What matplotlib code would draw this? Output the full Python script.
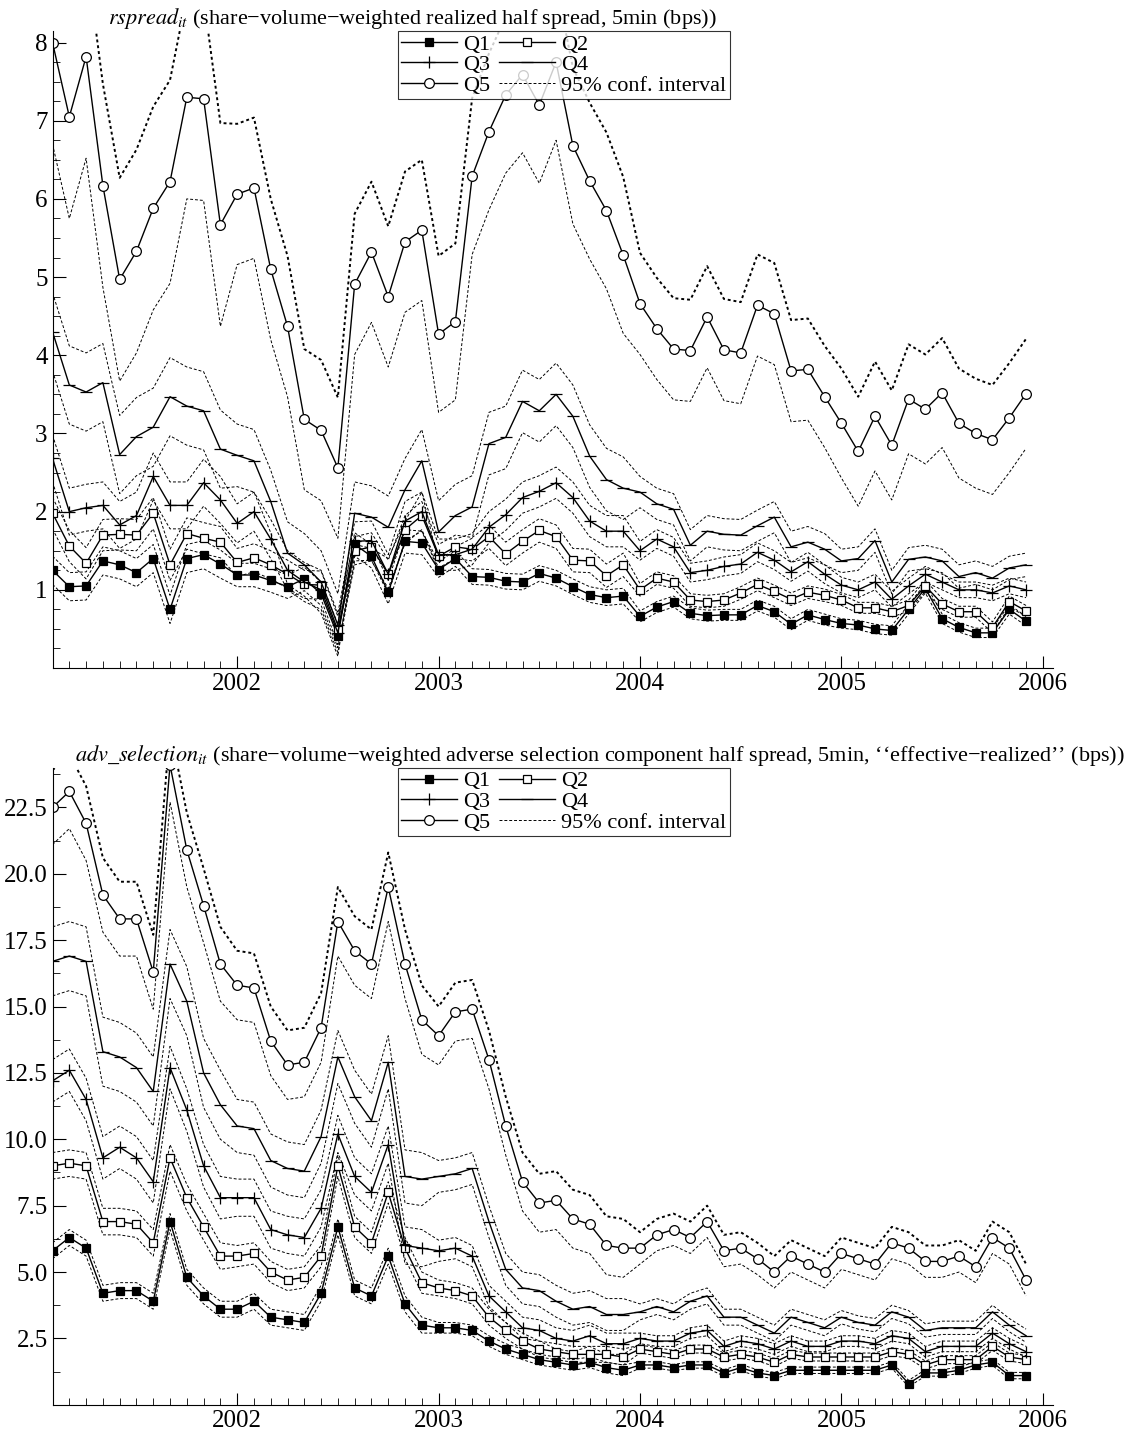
import numpy as np
import matplotlib
matplotlib.use("Agg")
import matplotlib.pyplot as plt
from matplotlib.ticker import MultipleLocator

plt.rcParams['font.family'] = ['Liberation Serif', 'DejaVu Serif']
plt.rcParams['mathtext.fontset'] = 'stix'

# monthly observations, Feb 2001 .. Dec 2005
months = 2001 + np.arange(1, 60) / 12.0
years = [2001, 2002, 2003, 2004, 2005]
year_index = (np.arange(1, 60) // 12)

labels = ["Q1", "Q2", "Q3", "Q4", "Q5"]

# ---- panel 1: realized half spread
rs_q1 = [1.25, 1.04, 1.05, 1.37, 1.32, 1.22, 1.4, 0.75, 1.4, 1.45, 1.33,
         1.19, 1.19, 1.12, 1.04, 1.14, 0.95, 0.41, 1.58, 1.43, 0.97, 1.62, 1.6,
         1.26, 1.4, 1.17, 1.16, 1.11, 1.1, 1.21, 1.15, 1.04, 0.94, 0.9, 0.92,
         0.66, 0.78, 0.85, 0.7, 0.67, 0.68, 0.68, 0.8, 0.72, 0.56, 0.68, 0.62,
         0.57, 0.55, 0.5, 0.48, 0.75, 1.02, 0.63, 0.52, 0.45, 0.45, 0.75, 0.6]
rs_q2 = [1.98, 1.56, 1.34, 1.7, 1.71, 1.7, 1.98, 1.32, 1.72, 1.66, 1.61,
         1.35, 1.41, 1.32, 1.2, 1.07, 1.06, 0.48, 1.5, 1.55, 1.2, 1.77, 1.95,
         1.43, 1.55, 1.52, 1.68, 1.46, 1.62, 1.76, 1.68, 1.38, 1.37, 1.18, 1.32,
         1.0, 1.15, 1.1, 0.87, 0.85, 0.87, 0.96, 1.07, 0.98, 0.88, 0.97, 0.93,
         0.87, 0.77, 0.77, 0.72, 0.8, 1.05, 0.82, 0.72, 0.72, 0.52, 0.85, 0.73]
rs_q3 = [2.68, 2.0, 2.05, 2.08, 1.83, 1.95, 2.45, 2.08, 2.08, 2.37, 2.15,
         1.85, 2.0, 1.65, 1.25, 1.1, 1.0, 0.45, 1.62, 1.63, 1.2, 1.88, 2.0,
         1.45, 1.45, 1.52, 1.8, 1.96, 2.18, 2.26, 2.37, 2.18, 1.88, 1.75, 1.75,
         1.5, 1.65, 1.55, 1.22, 1.25, 1.3, 1.33, 1.48, 1.38, 1.23, 1.36, 1.2,
         1.06, 1.0, 1.1, 0.88, 1.05, 1.2, 1.1, 1.0, 1.0, 0.96, 1.05, 1.0]
rs_q4 = [4.3, 3.62, 3.53, 3.65, 2.73, 2.96, 3.08, 3.47, 3.35, 3.29, 2.8,
         2.72, 2.65, 2.13, 1.47, 1.32, 1.1, 0.55, 1.98, 1.93, 1.8, 2.28, 2.65,
         1.74, 1.95, 2.06, 2.87, 2.95, 3.41, 3.29, 3.5, 3.22, 2.71, 2.41, 2.3,
         2.25, 2.1, 2.03, 1.57, 1.75, 1.71, 1.7, 1.82, 1.93, 1.55, 1.61, 1.52,
         1.37, 1.4, 1.63, 1.1, 1.39, 1.42, 1.37, 1.17, 1.22, 1.15, 1.28, 1.32]
rs_q5 = [8.0, 7.05, 7.82, 6.17, 4.97, 5.33, 5.88, 6.22, 7.3, 7.28, 5.67,
         6.06, 6.14, 5.1, 4.37, 3.18, 3.04, 2.56, 4.91, 5.32, 4.75, 5.45, 5.6,
         4.27, 4.43, 6.29, 6.86, 7.33, 7.59, 7.2, 7.75, 6.68, 6.23, 5.85, 5.28,
         4.66, 4.34, 4.08, 4.06, 4.49, 4.07, 4.03, 4.64, 4.53, 3.8, 3.82, 3.47,
         3.13, 2.77, 3.22, 2.85, 3.44, 3.31, 3.52, 3.13, 3.0, 2.92, 3.2, 3.51]
# half width of the 95% band, per year 2001..2005
rs_hw = [[0.18, 0.15, 0.10, 0.07, 0.06],
         [0.20, 0.18, 0.15, 0.08, 0.07],
         [0.30, 0.25, 0.20, 0.12, 0.10],
         [0.50, 0.40, 0.40, 0.20, 0.15],
         [1.30, 0.90, 1.00, 0.65, 0.70]]

# ---- panel 2: adverse selection component
as_q1 = [5.8, 6.3, 5.9, 4.2, 4.3, 4.3, 3.9, 6.9, 4.8, 4.1, 3.6,
         3.6, 3.9, 3.3, 3.2, 3.1, 4.2, 6.7, 4.4, 4.1, 5.6, 3.8, 3.0,
         2.9, 2.9, 2.8, 2.4, 2.1, 1.9, 1.7, 1.6, 1.5, 1.6, 1.4, 1.3,
         1.5, 1.5, 1.4, 1.5, 1.5, 1.2, 1.4, 1.2, 1.1, 1.3, 1.3, 1.3,
         1.3, 1.3, 1.3, 1.5, 0.8, 1.2, 1.2, 1.3, 1.5, 1.6, 1.1, 1.1]
as_q2 = [9.0, 9.1, 9.0, 6.9, 6.9, 6.8, 6.1, 9.3, 7.8, 6.7, 5.6,
         5.6, 5.7, 5.0, 4.7, 4.8, 5.6, 9.0, 6.7, 6.1, 8.0, 5.9, 4.6,
         4.4, 4.3, 4.1, 3.3, 2.8, 2.4, 2.1, 2.0, 1.9, 1.9, 1.9, 1.8,
         2.1, 2.0, 1.9, 2.1, 2.1, 1.8, 1.9, 1.8, 1.6, 1.9, 1.8, 1.8,
         1.8, 1.8, 1.8, 2.0, 1.9, 1.5, 1.7, 1.7, 1.7, 2.2, 1.8, 1.7]
as_q3 = [12.2, 12.6, 11.5, 9.3, 9.7, 9.3, 8.4, 12.7, 11.1, 9.0, 7.8,
         7.8, 7.8, 6.6, 6.4, 6.3, 7.4, 10.2, 8.6, 8.0, 9.8, 6.0, 5.9,
         5.8, 5.9, 5.6, 4.1, 3.5, 2.9, 2.8, 2.5, 2.4, 2.6, 2.3, 2.3,
         2.5, 2.4, 2.4, 2.7, 2.8, 2.2, 2.4, 2.3, 2.1, 2.4, 2.2, 2.2,
         2.4, 2.4, 2.3, 2.6, 2.5, 2.0, 2.2, 2.2, 2.2, 2.7, 2.3, 2.0]
as_q4 = [16.7, 16.9, 16.7, 13.3, 13.1, 12.7, 11.8, 16.6, 15.2, 12.5, 11.3,
         10.5, 10.4, 9.2, 8.9, 8.8, 10.1, 13.1, 11.6, 10.7, 12.9, 8.6, 8.5,
         8.6, 8.7, 8.9, 6.9, 5.1, 4.4, 4.3, 3.9, 3.6, 3.7, 3.4, 3.4,
         3.5, 3.7, 3.5, 3.9, 4.1, 3.3, 3.3, 3.0, 2.7, 3.3, 3.1, 2.9,
         3.3, 3.1, 3.0, 3.5, 3.3, 2.8, 2.9, 2.9, 2.9, 3.5, 3.0, 2.6]
as_q5 = [22.5, 23.1, 21.9, 19.2, 18.3, 18.3, 16.3, 24.1, 20.9, 18.8, 16.6,
         15.8, 15.7, 13.7, 12.8, 12.9, 14.2, 18.2, 17.1, 16.6, 19.5, 16.6, 14.5,
         13.9, 14.8, 14.9, 13.0, 10.5, 8.4, 7.6, 7.7, 7.0, 6.8, 6.0, 5.9,
         5.9, 6.4, 6.6, 6.3, 6.9, 5.8, 5.9, 5.5, 5.0, 5.6, 5.3, 5.0,
         5.7, 5.5, 5.3, 6.1, 5.9, 5.4, 5.4, 5.6, 5.2, 6.3, 5.9, 4.7]
as_hw = [[0.30, 0.30, 0.20, 0.12, 0.12],
         [0.50, 0.40, 0.30, 0.15, 0.15],
         [0.80, 0.70, 0.40, 0.20, 0.20],
         [1.30, 1.00, 0.60, 0.30, 0.25],
         [1.40, 1.30, 1.10, 0.60, 0.60]]

styles = [dict(marker='s', mfc='black', ms=6),
          dict(marker='s', mfc='white', ms=6),
          dict(marker='+', mfc='white', ms=8),
          dict(marker='_', mfc='white', ms=8),
          dict(marker='o', mfc='white', ms=7)]


def draw_panel(ax, series, hws, title, title_x, ylim, yticks, yminor):
    for i, (s, hw) in enumerate(zip(series, hws)):
        s = np.array(s)
        w = np.array(hw)[year_index]
        if i == 4:
            ax.plot(months, s + w, color='black', lw=1.4, ls=(0, (1.5, 1.5)))
        else:
            ax.plot(months, s + w, color='black', lw=0.7, ls=(0, (3, 2)))
        ax.plot(months, s - w, color='black', lw=0.7, ls=(0, (3, 2)))
    handles = []
    for i, s in enumerate(series):
        h, = ax.plot(months, s, color='black', lw=1.0, mec='black', mew=0.9,
                     label=labels[i], **styles[i])
        handles.append(h)
    ci, = ax.plot([], [], color='black', lw=0.7, ls=(0, (3, 2)), label='95% conf. interval')
    handles.append(ci)
    order = [handles[0], handles[2], handles[4], handles[1], handles[3], handles[5]]
    leg = ax.legend(handles=order, ncol=2, loc='upper left', bbox_to_anchor=(0.345, 1.0),
                    fontsize=16, frameon=True, fancybox=False, edgecolor='black',
                    handlelength=2.5, borderpad=0.15, labelspacing=0.0,
                    columnspacing=0.4, handletextpad=0.3, borderaxespad=0.0)
    leg.get_frame().set_linewidth(0.8)
    ax.text(title_x, 1.0, title, transform=ax.transAxes, fontsize=16, va='bottom', ha='left')
    ax.set_xlim(2001 + 1 / 12.0, 2006.05)
    ax.set_ylim(*ylim)
    ax.set_xticks([2002, 2003, 2004, 2005, 2006])
    ax.xaxis.set_minor_locator(MultipleLocator(1 / 12.0))
    ax.set_yticks(yticks)
    ax.yaxis.set_minor_locator(MultipleLocator(yminor))
    ax.tick_params(which='both', direction='in', labelsize=18)
    ax.tick_params(which='major', length=9)
    ax.tick_params(which='minor', length=5)
    ax.spines['top'].set_visible(False)
    ax.spines['right'].set_visible(False)


fig = plt.figure(figsize=(11.42, 14.32), dpi=100)
ax1 = fig.add_axes([0.046, 0.5335, 0.876, 0.445])
ax2 = fig.add_axes([0.046, 0.019, 0.876, 0.445])

draw_panel(ax1, [rs_q1, rs_q2, rs_q3, rs_q4, rs_q5], rs_hw,
           '$rspread_{it}$ (share\u2212volume\u2212weighted realized half spread, 5min (bps))',
           0.055, (0.0, 8.15), [1, 2, 3, 4, 5, 6, 7, 8], 0.25)
ax1.set_yticklabels(['1', '2', '3', '4', '5', '6', '7', '8'])
draw_panel(ax2, [as_q1, as_q2, as_q3, as_q4, as_q5], as_hw,
           '$adv\\_selection_{it}$ (share\u2212volume\u2212weighted adverse selection component half spread, 5min, \u2018\u2018effective\u2212realized\u2019\u2019 (bps))',
           0.022, (0.0, 24.0), [2.5, 5, 7.5, 10, 12.5, 15, 17.5, 20, 22.5], 1.25)
ax2.set_yticklabels(['2.5', '5.0', '7.5', '10.0', '12.5', '15.0', '17.5', '20.0', '22.5'])

fig.savefig("out.png", dpi=100)
